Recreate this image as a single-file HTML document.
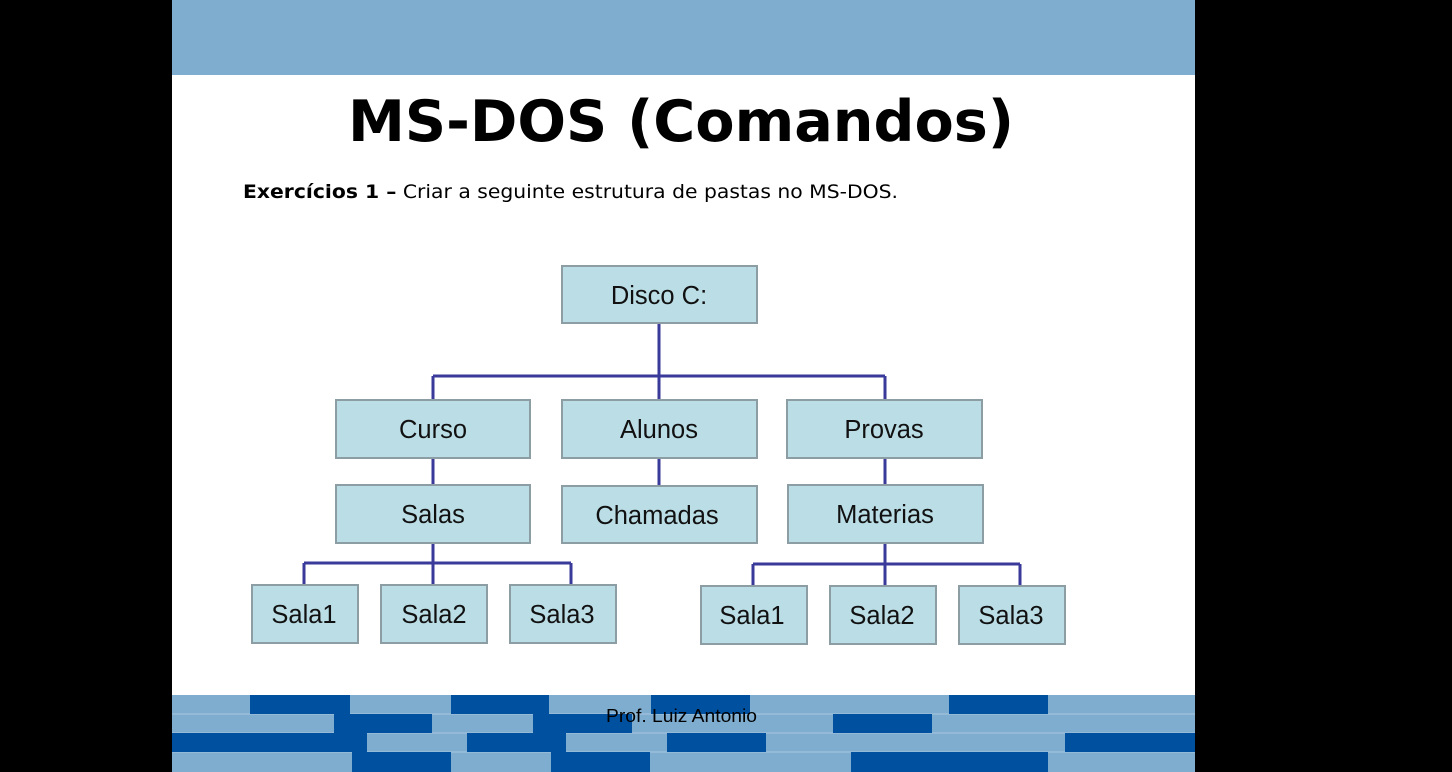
<!DOCTYPE html>
<html><head><meta charset="utf-8"><style>
html,body{margin:0;padding:0;background:#000;width:1452px;height:772px;overflow:hidden}
svg{display:block}
</style></head><body>
<svg width="1452" height="772" viewBox="0 0 1452 772" xmlns="http://www.w3.org/2000/svg">
<rect x="0" y="0" width="1452" height="772" fill="#000"/>
<rect x="172" y="0" width="1023" height="772" fill="#fff"/>
<rect x="172" y="0" width="1023" height="75" fill="#7eadd0"/>
<text x="348" y="141" textLength="666" lengthAdjust="spacingAndGlyphs" font-family="DejaVu Sans, sans-serif" font-weight="bold" font-size="57" fill="#000">MS-DOS (Comandos)</text>
<text x="243" y="198" textLength="655" lengthAdjust="spacingAndGlyphs" font-family="DejaVu Sans, sans-serif" font-size="19" fill="#000"><tspan font-weight="bold">Exercícios 1  –</tspan> Criar a seguinte estrutura de pastas no MS-DOS.</text>
<g stroke="#3a3a9a" stroke-width="3" fill="none">
<path d="M659 323V400M433 376H885M433 376V400M885 376V400M433 458V485M659 458V485M885 458V485M433 543V585M304 563H571M304 563V585M571 563V585M885 543V586M753 564H1020M753 564V586M1020 564V586"/>
</g>
<g fill="#bbdde6" stroke="#8c9ea4" stroke-width="2">
<rect x="562" y="266" width="195" height="57"/>
<rect x="336" y="400" width="194" height="58"/>
<rect x="562" y="400" width="195" height="58"/>
<rect x="787" y="400" width="195" height="58"/>
<rect x="336" y="485" width="194" height="58"/>
<rect x="562" y="486" width="195" height="57"/>
<rect x="788" y="485" width="195" height="58"/>
<rect x="252" y="585" width="106" height="58"/>
<rect x="381" y="585" width="106" height="58"/>
<rect x="510" y="585" width="106" height="58"/>
<rect x="701" y="586" width="106" height="58"/>
<rect x="830" y="586" width="106" height="58"/>
<rect x="959" y="586" width="106" height="58"/>
</g>
<g style="font-family:'Liberation Sans',sans-serif" font-size="25.5" fill="#111" text-anchor="middle">
<text x="659" y="304">Disco C:</text>
<text x="433" y="438">Curso</text>
<text x="659" y="438">Alunos</text>
<text x="884" y="438">Provas</text>
<text x="433" y="523">Salas</text>
<text x="657" y="524">Chamadas</text>
<text x="885" y="523">Materias</text>
<text x="304" y="623">Sala1</text>
<text x="434" y="623">Sala2</text>
<text x="562" y="623">Sala3</text>
<text x="752" y="624">Sala1</text>
<text x="882" y="624">Sala2</text>
<text x="1011" y="624">Sala3</text>
</g>
<rect x="172" y="695" width="1023" height="77" fill="#7fadd0"/>
<g stroke="#a9c8e0" stroke-width="1">
<path d="M172 714H1195M172 733H1195M172 752H1195"/>
</g>
<g fill="#0050a0">
<rect x="250" y="695" width="100" height="19"/>
<rect x="451" y="695" width="98" height="19"/>
<rect x="651" y="695" width="99" height="19"/>
<rect x="949" y="695" width="99" height="19"/>
<rect x="334" y="714" width="98" height="19"/>
<rect x="533" y="714" width="99" height="19"/>
<rect x="833" y="714" width="99" height="19"/>
<rect x="172" y="733" width="195" height="19"/>
<rect x="467" y="733" width="99" height="19"/>
<rect x="667" y="733" width="99" height="19"/>
<rect x="1065" y="733" width="130" height="19"/>
<rect x="352" y="752" width="99" height="20"/>
<rect x="551" y="752" width="99" height="20"/>
<rect x="851" y="752" width="197" height="20"/>
</g>
<text x="606" y="722" textLength="151" lengthAdjust="spacingAndGlyphs" style="font-family:'Liberation Sans',sans-serif" font-size="18" fill="#000">Prof. Luiz Antonio</text>
</svg>
</body></html>
